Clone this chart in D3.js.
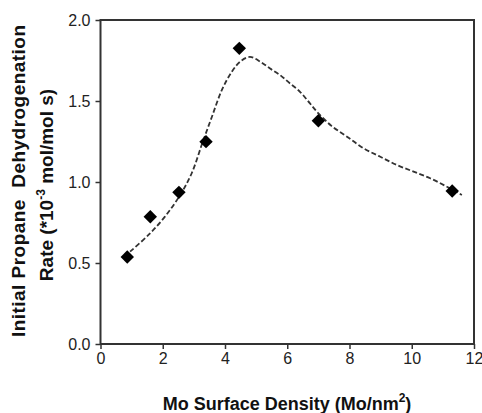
<!DOCTYPE html>
<html><head><meta charset="utf-8">
<script src="https://cdn.jsdelivr.net/npm/d3@7"></script>
<style>body{margin:0;background:#fff}</style>
</head><body>
<svg id="c" width="482" height="413"></svg>
<script>
const density = [0.86, 1.60, 2.52, 3.39, 4.46, 7.00, 11.30];
const rate = [0.537, 0.786, 0.936, 1.249, 1.825, 1.378, 0.944];
const fitX = [0.95, 1.54, 2.07, 2.56, 2.93, 3.27, 3.58, 3.90, 4.22, 4.50, 4.80, 5.13, 5.45, 5.77, 6.09, 6.41, 6.73, 7.00, 7.43, 7.92, 8.45, 8.99, 9.52, 10.06, 10.59, 11.13, 11.61];
const fitY = [0.57, 0.673, 0.786, 0.92, 1.054, 1.239, 1.403, 1.568, 1.681, 1.745, 1.772, 1.743, 1.70, 1.66, 1.608, 1.557, 1.485, 1.424, 1.345, 1.28, 1.208, 1.156, 1.105, 1.064, 1.023, 0.971, 0.92];
const xTicks = [0, 2, 4, 6, 8, 10, 12];
const yTicks = [0.0, 0.5, 1.0, 1.5, 2.0];

const svg = d3.select("#c");
const L = 100.5, R = 474, T = 20, B = 344;
const x = d3.scaleLinear().domain([0, 12]).range([L, R]);
const y = d3.scaleLinear().domain([0, 2]).range([B, T]);
const font = "Liberation Sans, Arial, sans-serif";
const ink = "#333";

svg.append("rect").attr("x", L).attr("y", T).attr("width", R - L).attr("height", B - T)
  .attr("fill", "none").attr("stroke", ink).attr("stroke-width", 2);

const xa = svg.append("g").attr("transform", `translate(0,${B})`)
  .call(d3.axisBottom(x).tickValues(xTicks).tickFormat(d3.format("d")).tickSize(5).tickPadding(4));
const ya = svg.append("g").attr("transform", `translate(${L},0)`)
  .call(d3.axisLeft(y).tickValues(yTicks).tickFormat(d3.format(".1f")).tickSize(5).tickPadding(5));
[xa, ya].forEach(g => {
  g.select(".domain").remove();
  g.selectAll("line").attr("stroke", ink).attr("stroke-width", 1.5);
  g.selectAll("text").attr("font-family", font).attr("font-size", 16).attr("fill", "#222");
});

const line = d3.line().x(d => x(d[0])).y(d => y(d[1])).curve(d3.curveCatmullRom.alpha(0.5));
svg.append("path").datum(fitX.map((v, i) => [v, fitY[i]]))
  .attr("d", line).attr("fill", "none").attr("stroke", "#333")
  .attr("stroke-width", 1.8).attr("stroke-dasharray", "5,2.5");

svg.append("g").selectAll("path").data(density.map((v, i) => [v, rate[i]])).join("path")
  .attr("d", d3.symbol(d3.symbolSquare, 90))
  .attr("transform", d => `translate(${x(d[0])},${y(d[1])}) rotate(45)`)
  .attr("fill", "#000");

svg.append("text").attr("x", 287).attr("y", 410).attr("text-anchor", "middle")
  .attr("font-family", font).attr("font-weight", "bold").attr("font-size", 18).attr("fill", "#111")
  .html('Mo Surface Density (Mo/nm<tspan dy="-8" font-size="12">2</tspan><tspan dy="8">)</tspan>');

svg.append("text").attr("transform", "translate(25,181) rotate(-90)").attr("text-anchor", "middle")
  .attr("font-family", font).attr("font-weight", "bold").attr("font-size", 19).attr("fill", "#111")
  .attr("xml:space", "preserve").attr("textLength", 312).attr("lengthAdjust", "spacing")
  .text("Initial Propane  Dehydrogenation");
svg.append("text").attr("transform", "translate(53,185) rotate(-90)").attr("text-anchor", "middle")
  .attr("font-family", font).attr("font-weight", "bold").attr("font-size", 19).attr("fill", "#111")
  .html('Rate (*10<tspan dy="-8" font-size="12">-3</tspan><tspan dy="8"> mol/mol s)</tspan>');
</script>
</body></html>
